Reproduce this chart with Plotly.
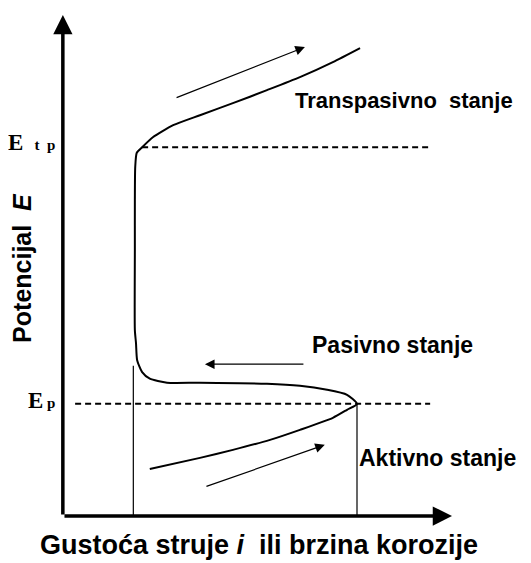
import plotly.graph_objects as go

# --- data (arbitrary units: current density i on x, potential E on y) ---
active_i = [22.4, 35.5, 44.1, 53.8, 61.6, 70.2, 73.9, 76.5]
active_E = [9.4, 11.6, 13.2, 15.2, 17.2, 19.6, 21.2, 22.4]

passive_i = [76.5, 73.9, 68.7, 61.6, 53.0, 35.5, 26.9, 22.4, 20.4, 19.1, 18.8, 18.5, 18.5, 18.5, 18.6, 19.0, 20.4]
passive_E = [22.4, 24.2, 25.2, 26.0, 26.4, 26.6, 26.6, 27.4, 28.7, 31.1, 34.5, 37.1, 53.1, 63.1, 69.7, 72.5, 73.6]

transp_i = [20.4, 23.2, 28.5, 35.5, 44.1, 53.0, 61.6, 70.2, 77.3]
transp_E = [73.6, 75.6, 78.0, 80.0, 82.4, 85.0, 87.6, 90.6, 93.4]

E_tp = 73.6
E_p = 22.4
i_pass = 18.1      # passive current density
i_crit = 76.5      # critical current density
dash_end = 95.6

# direction arrows: (tail_i, tail_E, head_i, head_E)
arrows = [
    (29.0, 83.4, 62.9, 93.6),
    (62.9, 30.3, 36.8, 30.3),
    (36.8, 5.8, 68.1, 14.2),
]

NB = "\u00a0"
labels = ["Transpasivno" + NB + NB + "stanje", "Pasivno stanje", "Aktivno stanje"]
label_i = [59.8, 64.2, 76.5]
label_E = [83.0, 34.1, 11.6]
label_size = [22, 23, 23]

x_title = "Gustoća struje <i>i</i>" + NB + NB + "ili brzina korozije"
y_title = "Potencijal" + NB + NB + "<i>E</i>"

SANS = "Liberation Sans, Arial, sans-serif"
SERIF = "Liberation Serif, Times New Roman, serif"

X_MAX = 100.0
Y_MAX = 100.0

fig = go.Figure()

curve_i = active_i + passive_i[1:] + transp_i[1:]
curve_E = active_E + passive_E[1:] + transp_E[1:]
fig.add_trace(go.Scatter(x=curve_i, y=curve_E, mode="lines",
                         line=dict(color="black", width=2.0, shape="spline", smoothing=0.6),
                         cliponaxis=False, hoverinfo="skip"))

# dashed potential levels
fig.add_trace(go.Scatter(x=[transp_i[0], dash_end], y=[E_tp, E_tp], mode="lines",
                         line=dict(color="black", width=2, dash="6px,4px"), cliponaxis=False))
fig.add_trace(go.Scatter(x=[2.9, dash_end], y=[E_p, E_p], mode="lines",
                         line=dict(color="black", width=2, dash="6px,4px"), cliponaxis=False))

# thin vertical drop lines
fig.add_trace(go.Scatter(x=[i_pass, i_pass], y=[0, 30], mode="lines",
                         line=dict(color="black", width=1.2), cliponaxis=False))
fig.add_trace(go.Scatter(x=[i_crit, i_crit], y=[0, E_p], mode="lines",
                         line=dict(color="black", width=1.2), cliponaxis=False))

ann = []
for (ti, tE, hi, hE) in arrows:
    ann.append(dict(x=hi, y=hE, ax=ti, ay=tE, xref="x", yref="y", axref="x", ayref="y",
                    showarrow=True, arrowhead=2, arrowsize=1.6, arrowwidth=1.2,
                    arrowcolor="black", text=""))

# axes with arrowheads (paper coordinates, pixel offsets)
ann.append(dict(x=-0.003, y=1.0, ax=0, ay=501, xref="paper", yref="paper",
                showarrow=True, arrowhead=2, arrowsize=1.1, arrowwidth=3.5,
                arrowcolor="black", text=""))
ann.append(dict(x=1.013, y=0, ax=-389, ay=0, xref="paper", yref="paper",
                showarrow=True, arrowhead=2, arrowsize=1.1, arrowwidth=3.5,
                arrowcolor="black", text=""))

for t, xi, ye, sz in zip(labels, label_i, label_E, label_size):
    ann.append(dict(x=xi / X_MAX, y=ye / Y_MAX, xref="paper", yref="paper", text="<b>" + t + "</b>",
                    showarrow=False, xanchor="left", yanchor="middle",
                    font=dict(family=SANS, size=sz, color="black")))

ann.append(dict(x=-0.018, y=(E_tp + 1.0) / Y_MAX, xref="paper", yref="paper", showarrow=False,
                xanchor="right", yanchor="middle",
                text="<b>E</b><span style='font-size:15px'><b>" + NB + NB + NB + "t" + NB + NB + "p</b></span>",
                font=dict(family=SERIF, size=23, color="black")))
ann.append(dict(x=-0.018, y=(E_p + 0.6) / Y_MAX, xref="paper", yref="paper", showarrow=False,
                xanchor="right", yanchor="middle",
                text="<b>E</b><span style='font-size:15px'><b>" + NB + "p</b></span>",
                font=dict(family=SERIF, size=23, color="black")))

ann.append(dict(x=-0.11, y=0.495, xref="paper", yref="paper", showarrow=False, textangle=-90,
                text="<b>" + y_title + "</b>", xanchor="center", yanchor="middle",
                font=dict(family=SANS, size=25, color="black")))
ann.append(dict(x=0.508, y=-0.058, xref="paper", yref="paper", showarrow=False,
                text="<b>" + x_title + "</b>", xanchor="center", yanchor="middle",
                font=dict(family=SANS, size=27, color="black")))

fig.update_layout(
    width=523, height=555,
    margin=dict(l=56, r=84, t=7, b=47),
    paper_bgcolor="white", plot_bgcolor="white",
    showlegend=False,
    xaxis=dict(range=[0, X_MAX], visible=False, fixedrange=True),
    yaxis=dict(range=[0, Y_MAX], visible=False, fixedrange=True),
    annotations=ann,
)

fig.write_html("out.html")
